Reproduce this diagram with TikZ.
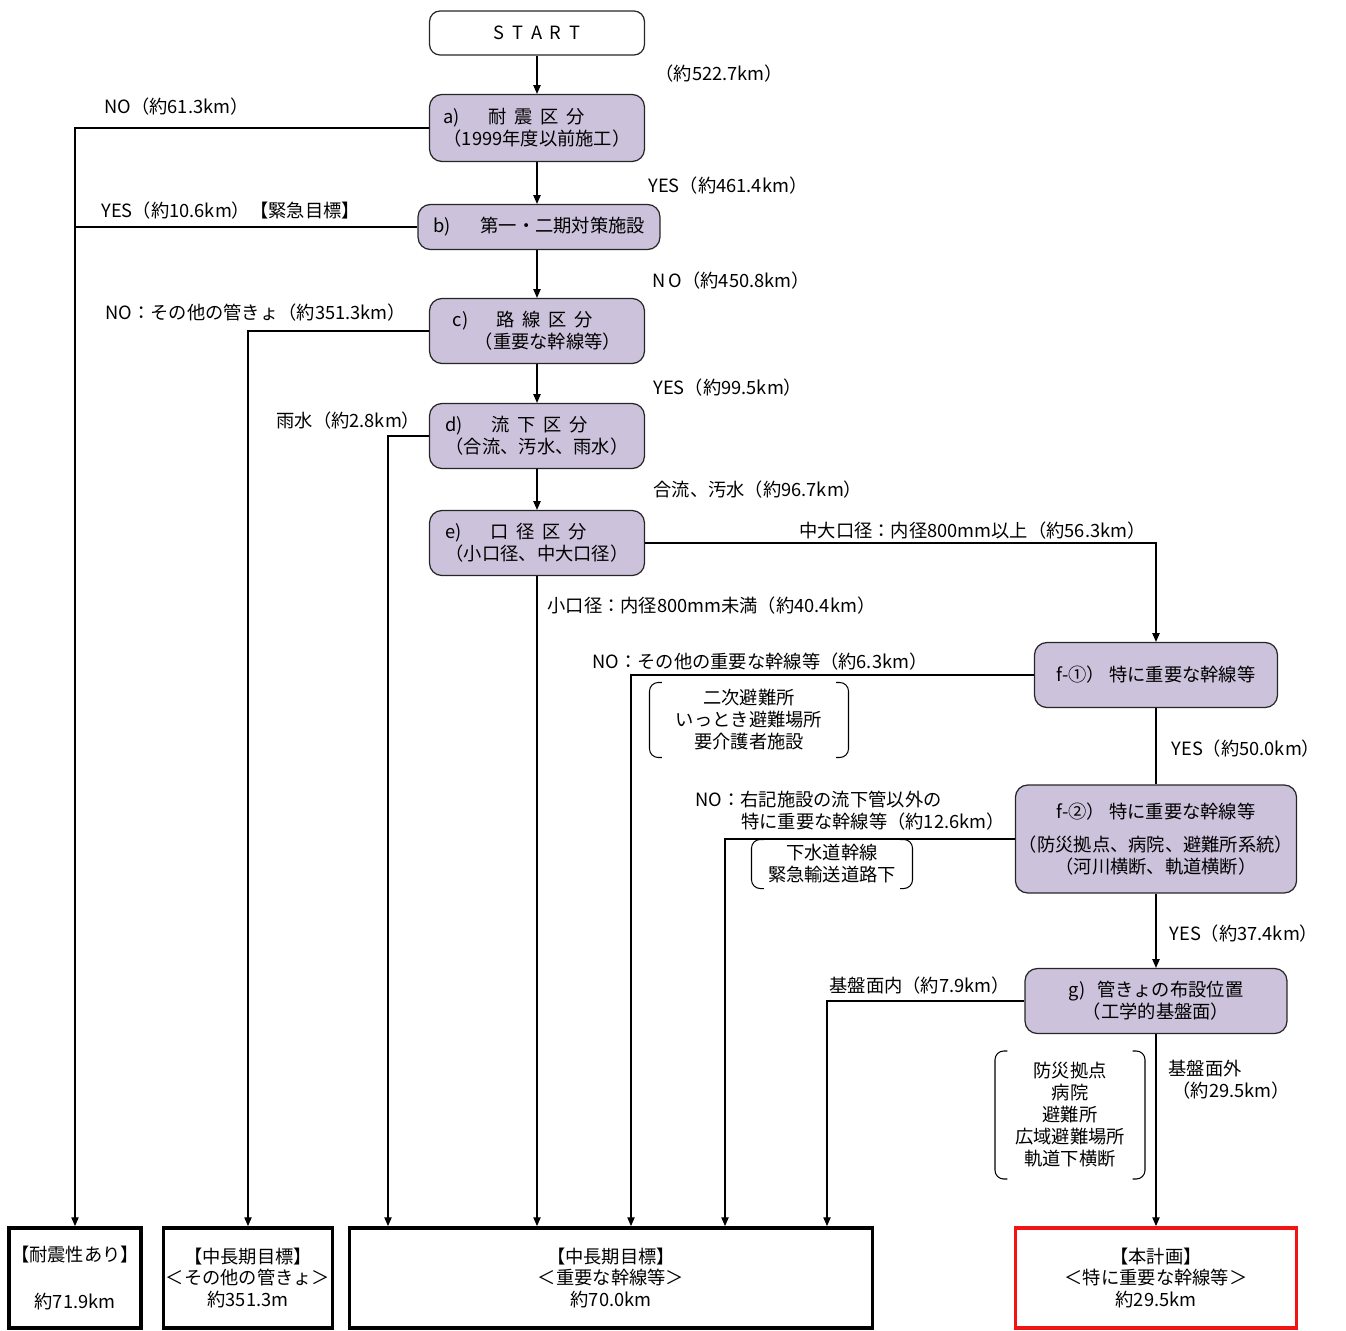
\documentclass[tikz,border=0pt]{standalone}
\usepackage{fontspec}
\setmainfont{Noto Sans CJK JP}
\usetikzlibrary{arrows.meta}
\definecolor{boxpurple}{RGB}{204,194,219}
\definecolor{planred}{RGB}{240,20,20}

\tikzset{
  arr/.style={-{Triangle[length=5pt,width=4.2pt]}},
  startbox/.style={draw=black!85,fill=white,rounded corners=6pt,line width=0.7pt,minimum width=4.3cm,minimum height=0.88cm},
  decision/.style={draw=black!85,fill=boxpurple,rounded corners=7pt,line width=0.7pt,align=left,inner sep=2pt},
  resultbox/.style={draw,line width=2.2pt,align=center,inner sep=1pt,minimum height=2cm},
  planbox/.style={resultbox,draw=planred},
  lbl/.style={anchor=west,inner sep=0pt,align=left},
  note/.style={align=center,inner sep=0pt}
}
\newcommand{\kgap}{\hspace{0.42em}}
\newcommand{\bracketpair}[1]{%
  \draw[rounded corners=5pt] ([xshift=7pt]#1.north west) -- (#1.north west) -- (#1.south west) -- ([xshift=7pt]#1.south west);
  \draw[rounded corners=5pt] ([xshift=-7pt]#1.north east) -- (#1.north east) -- (#1.south east) -- ([xshift=-7pt]#1.south east);}

\begin{document}
\begin{tikzpicture}[x=0.02cm,y=-0.02cm,line width=0.6pt,font=\fontsize{10.4}{12.5}\selectfont]
\useasboundingbox (0,0) rectangle (1346,1331);

% flow boxes
\node[startbox] (start) at (537,33) {S\kgap T\kgap A\kgap R\kgap T};
\node[decision,minimum width=4.3cm,minimum height=1.34cm] (a) at (537,128) {a)\hspace{0.55em}　耐\kgap 震\kgap 区\kgap 分\\（1999年度以前施工）};
\node[decision,minimum width=4.84cm,minimum height=0.9cm] (b) at (539,227) {b)\kgap　 第一・二期対策施設};
\node[decision,minimum width=4.3cm,minimum height=1.3cm] (c) at (537,331) {c)\hspace{0.55em}　路\kgap 線\kgap 区\kgap 分\\\hspace*{1.2em}（重要な幹線等）};
\node[decision,minimum width=4.3cm,minimum height=1.3cm] (d) at (537,436) {d)\hspace{0.55em}　流\kgap 下\kgap 区\kgap 分\\（合流、汚水、雨水）};
\node[decision,minimum width=4.3cm,minimum height=1.3cm] (e) at (537,543) {e)\hspace{0.55em}　口\kgap 径\kgap 区\kgap 分\\（小口径、中大口径）};
\node[decision,minimum width=4.86cm,minimum height=1.3cm,align=center] (f1) at (1156,675) {f-①）\ 特に重要な幹線等};
\node[decision,minimum width=5.62cm,minimum height=2.16cm,align=center] (f2) at (1156,839) {f-②）\ 特に重要な幹線等\\[6pt]（防災拠点、病院、避難所系統）\\（河川横断、軌道横断）};
\node[decision,minimum width=5.24cm,minimum height=1.3cm,align=center] (g) at (1156,1001) {g)\kgap\ 管きょの布設位置\\（工学的基盤面）};

% results
\node[resultbox,minimum width=2.64cm] (r1) at (75,1278) {【耐震性あり】\\[14pt]約71.9km};
\node[resultbox,minimum width=3.38cm] (r2) at (248,1278) {【中長期目標】\\＜その他の管きょ＞\\約351.3m};
\node[resultbox,minimum width=10.46cm] (r3) at (611,1278) {【中長期目標】\\＜重要な幹線等＞\\約70.0km};
\node[planbox,minimum width=5.62cm] (r4) at (1156,1278) {【本計画】\\＜特に重要な幹線等＞\\約29.5km};

% notes in brackets
\node[note,minimum width=3.96cm,minimum height=1.48cm] (n1) at (749,720) {二次避難所\\いっとき避難場所\\要介護者施設};
\node[note,minimum width=3.2cm,minimum height=0.96cm] (n2) at (832,864) {下水道幹線\\緊急輸送道路下};
\node[note,minimum width=2.98cm,minimum height=2.54cm] (n3) at (1070,1115) {防災拠点\\病院\\避難所\\広域避難場所\\軌道下横断};
\bracketpair{n1}
\bracketpair{n2}
\bracketpair{n3}

% drop points on the wide box
\coordinate (xd) at (388,0);
\coordinate (xf1) at (631,0);
\coordinate (xf2) at (725,0);
\coordinate (xg) at (827,0);

% connectors
\draw[arr] (start) -- (a);
\draw[arr] (a) -- (a.south |- b.north);
\draw[arr] (b.south -| a.south) -- (c);
\draw[arr] (c) -- (d);
\draw[arr] (d) -- (e);
\draw[arr] (e.south) -- (e.south |- r3.north);
\draw[arr] (a.west) -| (r1.north);
\draw (b.west) -- (b.west -| r1.north);
\draw[arr] (c.west) -| (r2.north);
\draw[arr] (d.west) -| (xd |- r3.north);
\draw[arr] (e.east) -| (f1.north);
\draw[arr] (f1.west) -| (xf1 |- r3.north);
\draw (f1.south) -- (f2.north);
\draw[arr] (f2.west) -| (xf2 |- r3.north);
\draw[arr] (f2.south) -- (g.north);
\draw[arr] (g.west) -| (xg |- r3.north);
\draw[arr] (g.south) -- (r4.north);

% labels
\node[lbl] (l0) at (655,74) {（約522.7km）};
\node[lbl] (l1) at (104,107) {NO（約61.3km）};
\node[lbl] (l2) at (648,186) {YES（約461.4km）};
\node[lbl] (l3) at (101,211) {YES（約10.6km）【緊急目標】};
\node[lbl] (l4) at (652,281) {N\,O（約450.8km）};
\node[lbl] (l5) at (105,313) {NO：その他の管きょ（約351.3km）};
\node[lbl] (l6) at (653,388) {YES（約99.5km）};
\node[lbl] (l7) at (276,421) {雨水（約2.8km）};
\node[lbl] (l8) at (653,490) {合流、汚水（約96.7km）};
\node[lbl] (l9) at (799,531) {中大口径：内径800mm以上（約56.3km）};
\node[lbl] (l10) at (547,606) {小口径：内径800mm未満（約40.4km）};
\node[lbl] (l11) at (592,662) {NO：その他の重要な幹線等（約6.3km）};
\node[lbl] (l12) at (1171,749) {YES（約50.0km）};
\node[lbl] (l13) at (695,811) {NO：右記施設の流下管以外の\\\hspace*{2.5em}特に重要な幹線等（約12.6km）};
\node[lbl] (l14) at (1169,934) {YES（約37.4km）};
\node[lbl] (l15) at (829,986) {基盤面内（約7.9km）};
\node[lbl] (l16) at (1168,1080) {基盤面外\\\ （約29.5km）};
\end{tikzpicture}
\end{document}
